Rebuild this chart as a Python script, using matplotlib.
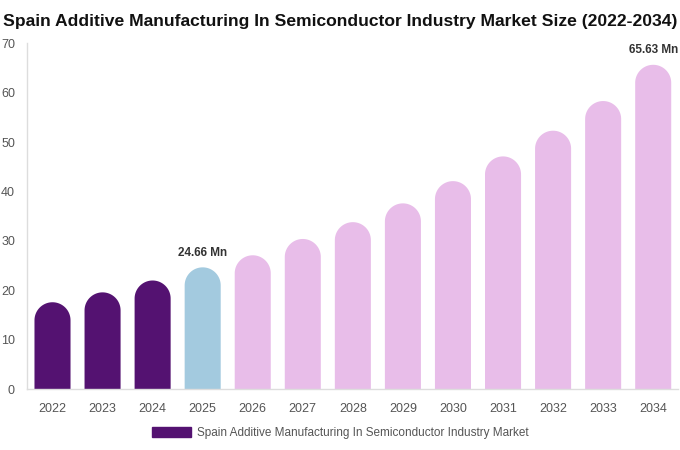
import numpy as np
import matplotlib
matplotlib.use("Agg")
import matplotlib.pyplot as plt
from matplotlib.patches import Polygon, Patch

plt.rcParams["font.family"] = ["Liberation Sans", "DejaVu Sans"]

years = ["2022", "2023", "2024", "2025", "2026", "2027", "2028",
         "2029", "2030", "2031", "2032", "2033", "2034"]
values = [17.6, 19.6, 22.0, 24.66, 27.1, 30.4, 33.8,
          37.6, 42.1, 47.1, 52.3, 58.3, 65.63]
bar_colors = ["#541271"] * 3 + ["#a3cadf"] + ["#e8bde9"] * 9
labels = {3: "24.66 Mn", 12: "65.63 Mn"}
legend_label = "Spain Additive Manufacturing In Semiconductor Industry Market"
title = "Spain Additive Manufacturing In Semiconductor Industry Market Size (2022-2034)"

fig = plt.figure(figsize=(6.8, 4.5), dpi=100)
ax = fig.add_axes([0.0404, 0.135, 0.957, 0.769])
ax.set_xlim(-0.5, len(years) - 0.5)
ax.set_ylim(0, 70)

width = 0.72
# cap radius in y data units so the top is a true half circle on screen
px_per_x = ax.bbox.width / len(years)
px_per_y = ax.bbox.height / 70
ry = (width / 2) * px_per_x / px_per_y
t = np.linspace(0, np.pi, 60)

for i, (v, c) in enumerate(zip(values, bar_colors)):
    top = v - ry
    xs = np.concatenate([[i - width / 2, i + width / 2], i + width / 2 * np.cos(t)])
    ys = np.concatenate([[0, 0], top + ry * np.sin(t)])
    ax.add_patch(Polygon(np.column_stack([xs, ys]), closed=True,
                         facecolor=c, edgecolor="none"))
    if i in labels:
        ax.text(i, v + 1.7, labels[i], ha="center", va="bottom",
                fontsize=8.5, fontweight="bold", color="#333333")

ax.set_xticks(range(len(years)))
ax.set_xticklabels(years)
ax.set_yticks(range(0, 71, 10))
ax.tick_params(axis="both", length=0, labelsize=9, colors="#555555")
ax.tick_params(axis="x", pad=10)
ax.tick_params(axis="y", pad=9)
for s in ["top", "right"]:
    ax.spines[s].set_visible(False)
for s in ["left", "bottom"]:
    ax.spines[s].set_color("#dddddd")
    ax.spines[s].set_linewidth(1)

fig.text(0.5, 0.953, title, ha="center", va="center", fontsize=12.6,
         fontweight="bold", color="#111111")

fig.legend(handles=[Patch(color="#541271", label=legend_label)],
           loc="center", bbox_to_anchor=(0.5, 0.038), frameon=False,
           fontsize=8.5, labelcolor="#555555", handlelength=3.3,
           handleheight=0.9, handletextpad=0.5)

fig.savefig("out.png", dpi=100)
